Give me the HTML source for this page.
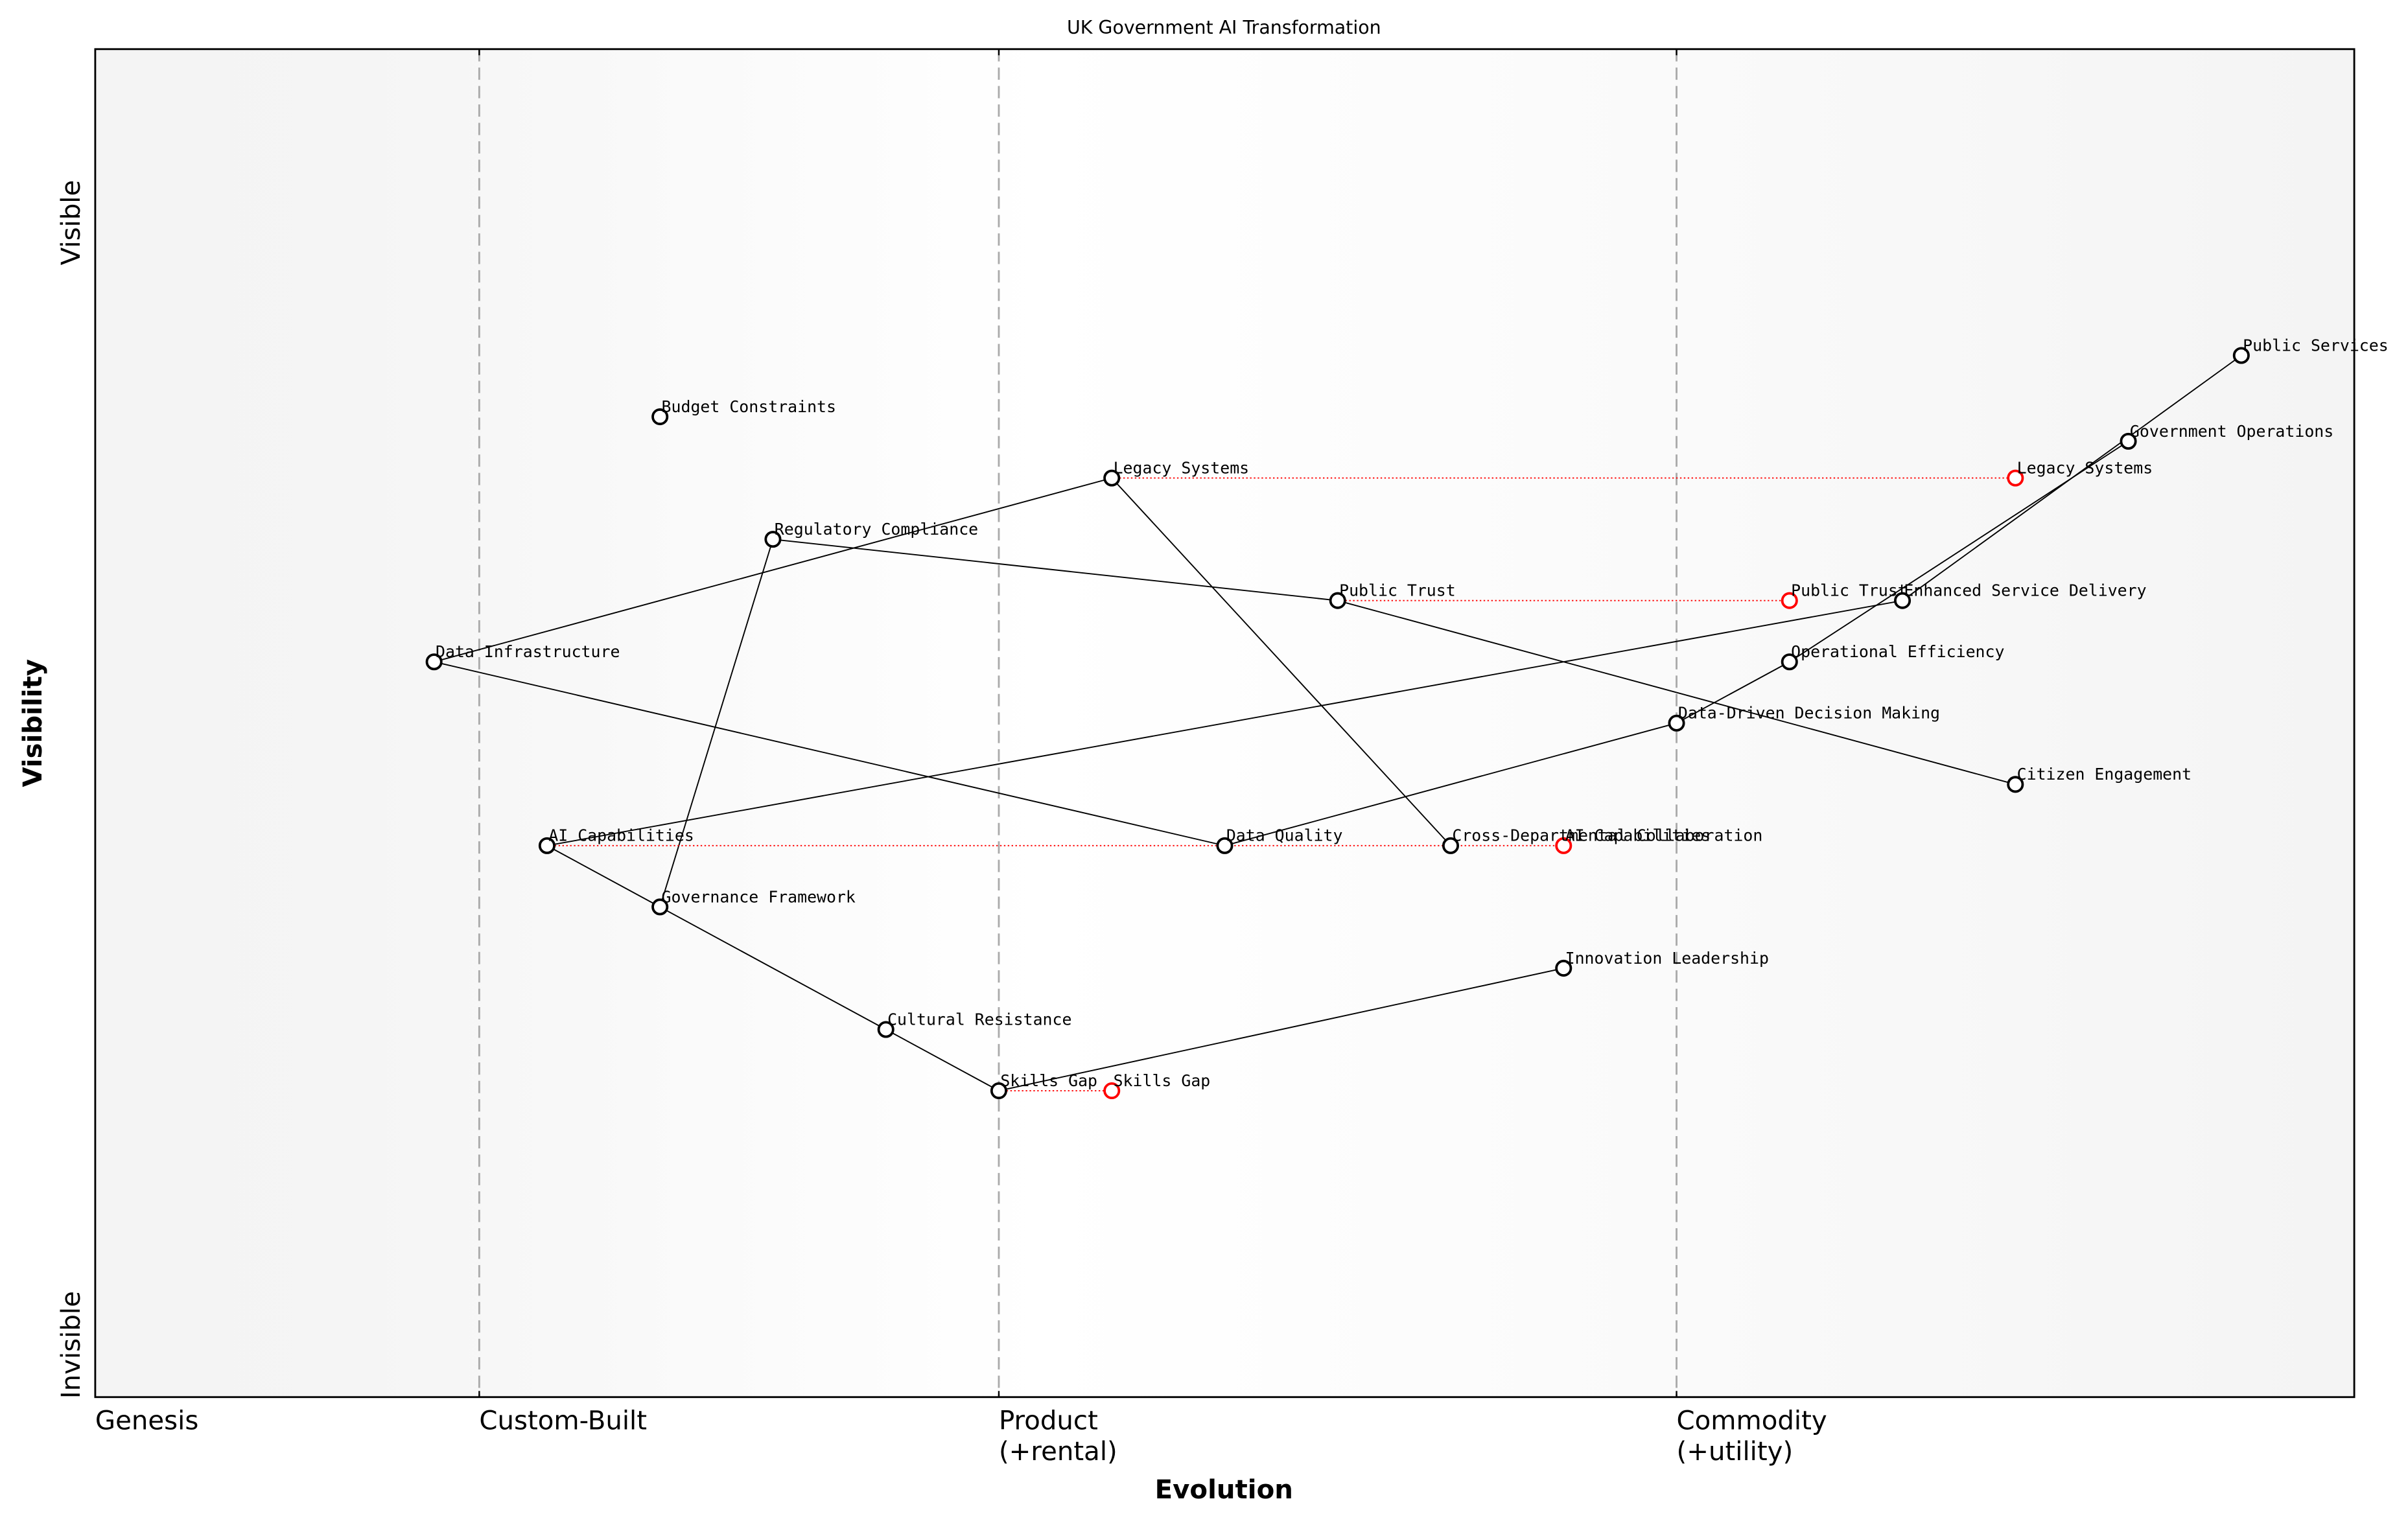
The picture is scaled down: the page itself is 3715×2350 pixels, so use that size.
<!DOCTYPE html>
<html><head><meta charset="utf-8"><style>
html,body{margin:0;padding:0;background:#fff;}
svg{display:block;}
text{font-family:"DejaVu Sans","Liberation Sans",sans-serif;}
.mono{font-family:"DejaVu Sans Mono","Liberation Mono",monospace;font-size:10.5px;}
</style></head><body>
<svg id="chart" width="3715" height="2350" viewBox="0 0 1568 992" preserveAspectRatio="none" xmlns="http://www.w3.org/2000/svg">
<defs><linearGradient id="bg" x1="0" x2="1" y1="0" y2="0">
<stop offset="0" stop-color="#f4f4f4"/><stop offset="0.12" stop-color="#f5f5f5"/><stop offset="0.42" stop-color="#ffffff"/><stop offset="0.7" stop-color="#fafafa"/><stop offset="1" stop-color="#f4f4f4"/></linearGradient></defs>
<rect x="62" y="32" width="1471" height="878" fill="url(#bg)"/>
<text x="797" y="22" font-size="12" text-anchor="middle">UK Government AI Transformation</text>
<g id="grid"></g><g id="edges"></g><g id="moves"></g><g id="nodes"></g>
<rect x="62" y="32" width="1471" height="878" fill="none" stroke="#000" stroke-width="1.2"/>
<g id="axes"></g>
<text x="797" y="976" font-size="17" font-weight="bold" text-anchor="middle">Evolution</text>
<text transform="translate(27,471) rotate(-90)" font-size="17" font-weight="bold" text-anchor="middle">Visibility</text>
<text transform="translate(52,145) rotate(-90)" font-size="17" text-anchor="middle">Visible</text>
<text transform="translate(52,876) rotate(-90)" font-size="17" text-anchor="middle">Invisible</text>
</svg>
<script>
const stageNames = ["Genesis","Custom-Built","Product","Commodity"];
const stageSub = ["","","(+rental)","(+utility)"];
const stagePos = [0, 0.17, 0.40, 0.70];
const nodeNames = ["Public Services","Government Operations","Legacy Systems","Budget Constraints","Regulatory Compliance","Public Trust","Enhanced Service Delivery","Data Infrastructure","Operational Efficiency","Data-Driven Decision Making","Citizen Engagement","AI Capabilities","Data Quality","Cross-Departmental Collaboration","Governance Framework","Innovation Leadership","Cultural Resistance","Skills Gap"];
const nodeEvo = [0.95,0.90,0.45,0.25,0.30,0.55,0.80,0.15,0.75,0.70,0.85,0.20,0.50,0.60,0.25,0.65,0.35,0.40];
const nodeVis = [0.85,0.78,0.75,0.80,0.70,0.65,0.65,0.60,0.60,0.55,0.50,0.45,0.45,0.45,0.40,0.35,0.30,0.25];
const edgeFrom = ["Public Services","Government Operations","AI Capabilities","Data Infrastructure","Data Infrastructure","Legacy Systems","Regulatory Compliance","Regulatory Compliance","Public Trust","Data Quality","Data-Driven Decision Making","AI Capabilities","Governance Framework","Cultural Resistance","Skills Gap"];
const edgeTo = ["Enhanced Service Delivery","Operational Efficiency","Enhanced Service Delivery","Legacy Systems","Data Quality","Cross-Departmental Collaboration","Public Trust","Governance Framework","Citizen Engagement","Data-Driven Decision Making","Operational Efficiency","Governance Framework","Cultural Resistance","Skills Gap","Innovation Leadership"];
const moveNames = ["Legacy Systems","Public Trust","AI Capabilities","Skills Gap"];
const moveTarget = [0.85,0.75,0.65,0.45];

const NS="http://www.w3.org/2000/svg";
const X0=62,X1=1533,Y0=910,Y1=32;
const xs=v=>X0+v*(X1-X0);
const ys=v=>Y0-v/1.1*(Y0-Y1);
function mk(tag,attrs,parent){const e=document.createElementNS(NS,tag);for(const k in attrs)e.setAttribute(k,attrs[k]);document.getElementById(parent).appendChild(e);return e;}

stagePos.forEach((p,i)=>{
  if(p>0){
    const l=mk('line',{x1:xs(p),x2:xs(p),y1:Y1,y2:Y0,stroke:'#aaa','stroke-width':1.2,'stroke-dasharray':'8,4'},'grid');
    
    
    mk('line',{x1:xs(p),x2:xs(p),y1:Y0,y2:Y0-4,stroke:'#000'},'axes');
    mk('line',{x1:xs(p),x2:xs(p),y1:Y1,y2:Y1+4,stroke:'#000'},'axes');
  }
  const t=mk('text',{x:xs(p),y:931,'font-size':17},'axes');
  
  
  t.textContent=stageNames[i];
  if(stageSub[i]){const s=mk('text',{x:xs(p),y:951,'font-size':17},'axes');
    
    
    s.textContent=stageSub[i];}
});
const idx=n=>nodeNames.indexOf(n);
edgeFrom.forEach((f,i)=>{
  const a=idx(f),b=idx(edgeTo[i]);
  const l=mk('line',{x1:xs(nodeEvo[a]),y1:ys(nodeVis[a]),x2:xs(nodeEvo[b]),y2:ys(nodeVis[b]),stroke:'#000','stroke-width':0.8},'edges');
  
  
});
moveNames.forEach((n,i)=>{
  const a=idx(n);const y=ys(nodeVis[a]);
  const l=mk('line',{x1:xs(nodeEvo[a]),y1:y,x2:xs(moveTarget[i]),y2:y,stroke:'red','stroke-width':0.8,'stroke-dasharray':'1,1.5'},'moves');
  
  
  const c=mk('circle',{cx:xs(moveTarget[i]),cy:y,r:4.7,fill:'#fff',stroke:'red','stroke-width':1.6},'moves');
  
  
  const t=mk('text',{x:xs(moveTarget[i])+1,y:y-3,class:'mono'},'moves');
  
  
  t.textContent=n;
});
nodeNames.forEach((n,i)=>{
  const x=xs(nodeEvo[i]),y=ys(nodeVis[i]);
  const c=mk('circle',{cx:x,cy:y,r:4.7,fill:'#fff',stroke:'#000','stroke-width':1.6},'nodes');
  
  
  const t=mk('text',{x:x+1,y:y-3,class:'mono'},'nodes');
  
  
  t.textContent=n;
});
</script>
</body></html>
